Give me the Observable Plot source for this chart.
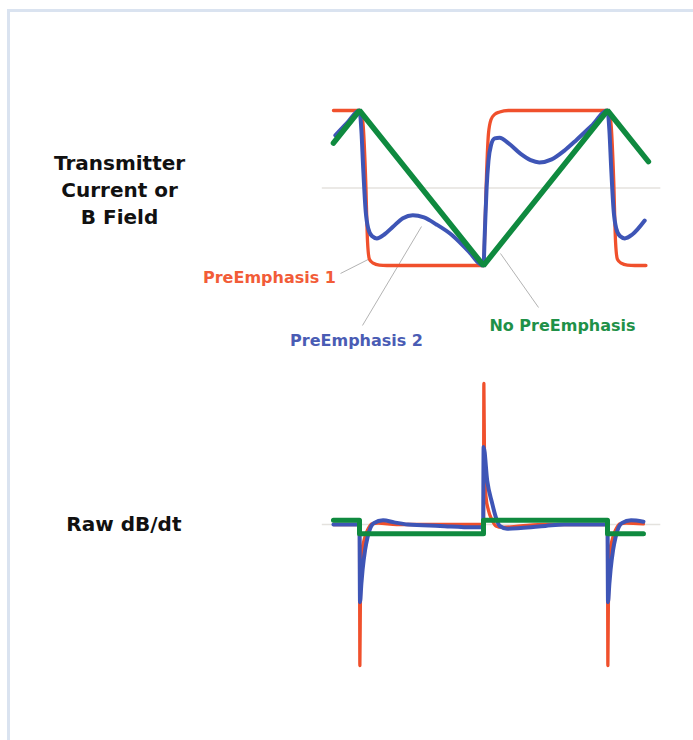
<!DOCTYPE html>
<html>
<head>
<meta charset="utf-8">
<script src="https://cdn.jsdelivr.net/npm/d3@7"></script>
<script src="https://cdn.jsdelivr.net/npm/@observablehq/plot@0.6"></script>
<style>
  html, body { margin: 0; padding: 0; background: #ffffff; }
  body { width: 693px; height: 740px; position: relative; overflow: hidden; }
  #frame { position: absolute; left: 7px; top: 9px; right: 0; bottom: 0;
           border-left: 3px solid #dae3f0; border-top: 3px solid #dae3f0; }
  #topPanel, #bottomPanel { position: absolute; left: 0; width: 693px; height: 370px; }
  #topPanel { top: 0; }
  #bottomPanel { top: 370px; }
  svg { overflow: visible; }
</style>
</head>
<body>
<div id="frame"></div>
<div id="topPanel"></div>
<div id="bottomPanel"></div>
<script>
// ---------- Data: transmitter current / B field (time in half-periods, value normalised) ----------
const noPreT = [-0.21, 0, 1, 2, 2.33];
const noPreV = [0.58, 1, -1, 1, 0.34];

const pre1T = [-0.21, 0, 0.015, 0.03, 0.05, 0.065, 0.08, 0.11, 0.16, 0.22, 1.0, 1.01, 1.025, 1.04, 1.06, 1.09, 1.13, 1.2, 2.0, 2.015, 2.03, 2.05, 2.065, 2.08, 2.11, 2.16, 2.22, 2.31];
const pre1V = [1, 1, 0.96, 0.8, 0.1, -0.7, -0.92, -0.97, -0.995, -1, -1, -0.6, 0.2, 0.7, 0.88, 0.95, 0.98, 1, 1, 0.96, 0.8, 0.1, -0.7, -0.92, -0.97, -0.995, -1, -1];

const pre2T = [-0.195, -0.1, 0, 0.015, 0.03, 0.05, 0.07, 0.1, 0.14, 0.2, 0.27, 0.35, 0.43, 0.52, 0.62, 0.74, 0.87, 1.0, 1.01, 1.025, 1.04, 1.06, 1.09, 1.13, 1.2, 1.3, 1.38, 1.45, 1.55, 1.65, 1.75, 1.87, 2.0, 2.015, 2.03, 2.05, 2.07, 2.1, 2.14, 2.2, 2.3];
const pre2V = [0.68, 0.84, 1, 0.75, 0.25, -0.3, -0.52, -0.62, -0.65, -0.6, -0.5, -0.39, -0.35, -0.38, -0.47, -0.6, -0.8, -1, -0.6, 0.0, 0.35, 0.55, 0.64, 0.65, 0.58, 0.44, 0.36, 0.33, 0.37, 0.48, 0.62, 0.8, 1, 0.75, 0.25, -0.3, -0.52, -0.62, -0.65, -0.6, -0.42];

// ---------- Data: raw dB/dt ----------
const dNoPreT = [-0.21, 0, 1, 2, 2.29];
const dNoPreV = [0.03, -0.065, 0.03, -0.065, -0.065];

const dPre1T = [-0.21, 0, 0.003, 0.008, 0.02, 0.04, 0.07, 0.1, 0.15, 0.3, 1.0, 1.003, 1.008, 1.02, 1.04, 1.07, 1.1, 1.15, 1.3, 1.5, 2.0, 2.003, 2.008, 2.02, 2.04, 2.07, 2.1, 2.15, 2.29];
const dPre1V = [0, 0, -1, -0.45, -0.2, -0.1, -0.03, 0.005, 0.01, 0, 0, 1, 0.45, 0.2, 0.1, 0.03, -0.01, -0.02, -0.01, 0, 0, -1, -0.45, -0.2, -0.1, -0.03, 0.005, 0.01, 0.005];

const dPre2T = [-0.21, 0, 0.004, 0.015, 0.025, 0.045, 0.065, 0.09, 0.115, 0.19, 0.28, 0.39, 0.65, 0.92, 0.997, 1.001, 1.03, 1.07, 1.1, 1.13, 1.19, 1.3, 1.5, 1.65, 2.0, 2.004, 2.015, 2.025, 2.045, 2.065, 2.09, 2.115, 2.19, 2.29];
const dPre2V = [0, 0, -0.55, -0.42, -0.32, -0.18, -0.09, -0.02, 0.01, 0.03, 0.015, 0, -0.01, -0.02, -0.02, 0.55, 0.31, 0.15, 0.05, -0.01, -0.03, -0.025, -0.01, 0, 0, -0.55, -0.42, -0.32, -0.18, -0.09, -0.02, 0.01, 0.03, 0.02];

// ---------- Labels ----------
const seriesNames = ["PreEmphasis 1", "PreEmphasis 2", "No PreEmphasis"];
const panelTitles = ["Transmitter\nCurrent or\nB Field", "Raw dB/dt"];

// ---------- Styles ----------
const RED = "#f0502c", BLUE = "#3e55b6", GREEN = "#0f8a3f";
const RED_T = "#f25c38", BLUE_T = "#4a5cb4", GREEN_T = "#1f9148";
const FONT = "DejaVu Sans";

const zip = (T, V) => T.map((t, i) => ({t, v: V[i]}));

// ---------- Top panel ----------
const topPlot = Plot.plot({
  width: 693, height: 370, margin: 0,
  x: {domain: [0, 1], range: [359, 483], axis: null},
  y: {domain: [-1, 1], range: [265, 110], axis: null},
  style: {fontFamily: FONT, background: "transparent"},
  marks: [
    Plot.ruleY([0], {x1: -0.3, x2: 2.43, stroke: "#e4e2de", strokeWidth: 1.5}),
    Plot.link([
      {x1: -0.153, y1: -1.103, x2: 0.073, y2: -0.92},
      {x1: 0.024, y1: -1.774, x2: 0.5, y2: -0.497},
      {x1: 1.137, y1: -0.845, x2: 1.444, y2: -1.542}
    ], {x1: "x1", y1: "y1", x2: "x2", y2: "y2", stroke: "#b3b3b3", strokeWidth: 1}),
    Plot.line(zip(pre1T, pre1V), {x: "t", y: "v", stroke: RED, strokeWidth: 3.3, curve: "monotone-x"}),
    Plot.line(zip(pre2T, pre2V), {x: "t", y: "v", stroke: BLUE, strokeWidth: 4, curve: "monotone-x"}),
    Plot.line(zip(noPreT, noPreV), {x: "t", y: "v", stroke: GREEN, strokeWidth: 5.5, strokeLinejoin: "miter"}),
    Plot.text([seriesNames[0]], {x: -0.726, y: -1.155, text: d => d, fill: RED_T, fontSize: 16, fontWeight: "bold"}),
    Plot.text([seriesNames[1]], {x: -0.024, y: -1.968, text: d => d, fill: BLUE_T, fontSize: 16, fontWeight: "bold"}),
    Plot.text([seriesNames[2]], {x: 1.637, y: -1.774, text: d => d, fill: GREEN_T, fontSize: 16, fontWeight: "bold"}),
    Plot.text([panelTitles[0]], {x: -1.935, y: 0, text: d => d, fill: "#111", fontSize: 20, fontWeight: "bold", lineHeight: 1.35})
  ]
});
document.getElementById("topPanel").append(topPlot);

// ---------- Bottom panel ----------
const bottomPlot = Plot.plot({
  width: 693, height: 370, margin: 0,
  x: {domain: [0, 1], range: [359, 483], axis: null},
  y: {domain: [-1, 1], range: [295, 13], axis: null},
  style: {fontFamily: FONT, background: "transparent"},
  marks: [
    Plot.ruleY([0], {x1: -0.3, x2: 2.43, stroke: "#e4e2de", strokeWidth: 1.5}),
    Plot.line(zip(dPre1T, dPre1V), {x: "t", y: "v", stroke: RED, strokeWidth: 3.3, curve: "monotone-x"}),
    Plot.line(zip(dPre2T, dPre2V), {x: "t", y: "v", stroke: BLUE, strokeWidth: 4, curve: "monotone-x"}),
    Plot.line(zip(dNoPreT, dNoPreV), {x: "t", y: "v", stroke: GREEN, strokeWidth: 5, curve: "step-after"}),
    Plot.text([panelTitles[1]], {x: -1.9, y: 0, text: d => d, fill: "#111", fontSize: 20, fontWeight: "bold"})
  ]
});
document.getElementById("bottomPanel").append(bottomPlot);
</script>
</body>
</html>
